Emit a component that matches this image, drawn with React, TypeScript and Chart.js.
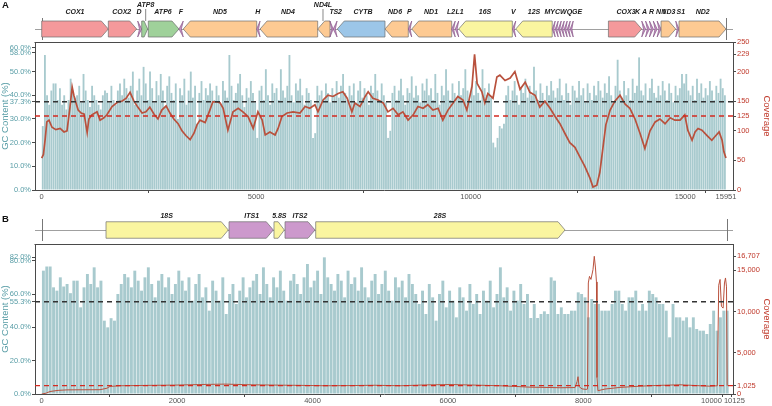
import React, { useEffect, useRef } from "react";
import { Chart, registerables } from "chart.js";

Chart.register(...registerables);

const FONT = "'Liberation Sans', Arial, Helvetica, sans-serif";
const WINDOW_BP = 50;

// ---------------- Panel A: mitochondrial genome ----------------
const mitoLength = 15951;
const mitoXMin = -156;
const mitoXMax = 16114;
const mitoXTicks = [0, 5000, 10000, 15000, 15951];
const mitoGCTicks = [0, 10, 20, 30, 37.3, 40, 50, 58, 60];
const mitoCovTicks = [0, 50, 100, 125, 150, 200, 229, 250];
const mitoGCAxisMax = 62.5;
const mitoCovAxisMax = 250;
const mitoGCMean = 37.3;
const mitoCovMean = 125;

// GC content (%) in 50 bp windows
const mitoGC = [
  27, 57, 40, 36, 42, 45, 45, 38, 43, 36, 40, 34, 38, 47, 42, 39, 40, 44, 37, 49,
  42, 38, 35, 44, 40, 38, 36, 34, 40, 42, 41, 37, 44, 38, 36, 42, 45, 40, 47, 43,
  39, 44, 50, 36, 42, 47, 40, 52, 45, 38, 50, 43, 37, 46, 40, 49, 42, 35, 44, 48,
  41, 38, 45, 30, 43, 40, 47, 36, 42, 50, 39, 44, 28, 41, 46, 38, 43, 40, 45, 42,
  38, 44, 40, 36, 46, 42, 39, 57, 44, 38, 41, 45, 49, 40, 35, 43, 39, 46, 41, 37,
  22, 42, 44, 38, 51, 40, 36, 45, 41, 43, 38, 51, 42, 39, 44, 57, 40, 37, 45, 42,
  47, 40, 36, 43, 41, 38, 22, 24, 44, 40, 42, 38, 45, 41, 37, 43, 40, 46, 39, 44,
  49, 41, 38, 44, 40, 45, 37, 42, 46, 39, 43, 40, 36, 44, 41, 49, 42, 38, 45, 40,
  37, 22, 25, 41, 44, 38, 42, 47, 40, 36, 43, 41, 48, 39, 44, 40, 37, 45, 42, 47,
  40, 43, 38, 49, 41, 36, 44, 40, 51, 42, 38, 45, 41, 39, 46, 40, 43, 51, 42, 38,
  44, 40, 46, 41, 38, 51, 43, 40, 45, 39, 20, 18, 22, 27, 26, 28, 40, 44, 38, 42,
  46, 40, 36, 43, 41, 47, 39, 44, 40, 52, 42, 38, 45, 41, 37, 44, 40, 46, 42, 39,
  43, 47, 40, 38, 45, 41, 36, 44, 42, 39, 46, 40, 43, 37, 45, 41, 38, 44, 40, 46,
  42, 39, 45, 41, 48, 40, 37, 44, 55, 42, 39, 46, 40, 43, 38, 47, 41, 44, 56, 42,
  40, 45, 38, 43, 47, 41, 39, 44, 40, 46, 42, 38, 45, 41, 37, 44, 40, 43, 49, 45,
  49, 42, 40, 44, 38, 47, 41, 45, 39, 43, 40, 46, 42, 38, 44, 41, 47, 43, 40,
];

// read depth along the genome
const mitoCovPos = [
  0, 40, 80, 120, 170, 240, 330, 430, 520, 590, 660, 710, 750, 800, 850, 920, 990, 1060, 1100, 1170,
  1290, 1360, 1450, 1520, 1640, 1780,
  1870, 1970, 2060, 2150, 2240, 2340, 2430, 2520, 2620, 2710, 2800, 2900, 2990, 3080, 3180, 3270,
  3360, 3460, 3550, 3620,
  3690, 3810, 3920, 3990, 4090, 4160, 4230, 4340, 4460, 4580, 4690, 4810, 4930, 5040, 5140, 5210,
  5320, 5440, 5510, 5600, 5720, 5860, 6020, 6140, 6250, 6370, 6440, 6560, 6670, 6790, 6910, 7020,
  7120, 7230, 7300, 7420, 7540, 7610, 7720, 7840, 7960, 8070, 8190, 8310, 8420, 8540, 8660, 8770,
  8890, 9000, 9120, 9240, 9350, 9470, 9590, 9700, 9820, 9910, 10030, 10090, 10150, 10260, 10330,
  10400, 10520, 10610, 10680,
  10800, 10920, 11030, 11150, 11270, 11380, 11500, 11610, 11730, 11850, 11960, 12080, 12200, 12310,
  12430, 12550, 12660, 12780, 12850, 12940, 13010, 13080, 13150, 13250, 13360, 13480, 13600, 13710,
  13830, 13950, 14060, 14180, 14300, 14410, 14530, 14650, 14760,
  14880, 14990, 15060, 15160, 15230, 15300, 15390, 15510, 15620, 15690, 15790, 15860, 15900, 15950,
];
const mitoCovVal = [
  54, 60, 85, 115, 118, 106, 102, 104, 98, 100, 140, 174, 160, 147, 135, 130, 128, 97, 120, 127,
  132, 118, 122, 127, 141, 149,
  150, 155, 165, 150, 140, 130, 132, 140, 128, 120, 135, 142, 130, 120, 112, 100,
  92, 85, 96, 110,
  118, 114, 135, 149, 149, 147, 138, 101, 132, 138, 132, 124, 104, 132, 118, 93,
  98, 93, 104, 124, 130, 132, 130, 141, 138, 144, 132, 152, 160, 158, 163, 166,
  155, 132, 147, 141, 158, 166, 155, 152, 147, 132, 138, 127, 132, 118, 127, 141,
  138, 144, 135, 138, 118, 135, 147, 158, 152, 135, 175, 229, 180, 166, 147,
  163, 155, 191, 194,
  185, 189, 200, 170, 182, 165, 160, 140, 150, 138, 125, 112, 95, 80,
  72, 55, 40, 20, 5, 8, 30, 70, 110, 135, 150, 160, 145, 138,
  120, 95, 70, 100, 115, 120, 112, 122, 118,
  118, 127, 101, 84, 98, 104, 101, 92, 84, 90, 98, 84, 65, 54,
];

const mitoGeneName = [
  "COX1", "COX2", "D", "ATP8", "ATP6", "F", "ND5", "H", "ND4", "ND4L", "T", "S2", "CYTB",
  "ND6", "P", "ND1", "L2", "L1", "16S", "V", "12S",
  "M", "Y", "C", "W", "Q", "G", "E",
  "COX3", "K", "A", "R", "N", "I", "ND3", "S1", "ND2",
];
const mitoGeneStart = [
  0, 1553, 2237, 2331, 2485, 3200, 3300, 5012, 5090, 6433, 6720, 6795, 6890,
  8002, 8545, 8625, 9557, 9640, 9720, 10970, 11050,
  11900, 11970, 12040, 12110, 12180, 12250, 12320,
  13210, 13986, 14076, 14166, 14256, 14346, 14437, 14779, 14856,
];
const mitoGeneEnd = [
  1553, 2214, 2331, 2471, 3200, 3300, 5012, 5090, 6433, 6720, 6795, 6885, 8002,
  8545, 8625, 9557, 9640, 9720, 10970, 11050, 11900,
  11970, 12040, 12110, 12180, 12250, 12320, 12390,
  13986, 14076, 14166, 14256, 14346, 14437, 14779, 14856, 15951,
];
const mitoGeneStrand = [
  1, 1, 1, 1, 1, -1, -1, -1, -1, -1, 1, -1, -1,
  -1, -1, -1, -1, -1, -1, -1, -1,
  -1, -1, -1, -1, -1, -1, -1,
  1, 1, 1, 1, 1, 1, 1, 1, 1,
];
const mitoGeneKind = [
  "cox", "cox", "trna", "atp", "atp", "trna", "nd", "trna", "nd", "nd", "trna", "trna", "cytb",
  "nd", "trna", "nd", "trna", "trna", "rrna", "trna", "rrna",
  "trna", "trna", "trna", "trna", "trna", "trna", "trna",
  "cox", "trna", "trna", "trna", "trna", "trna", "nd", "trna", "nd",
];
const mitoLabelText = [
  "COX1", "COX2", "D", "ATP8", "ATP6", "F", "ND5", "H", "ND4", "ND4L", "T", "S2", "CYTB",
  "ND6", "P", "ND1", "L2", "L1", "16S", "V", "12S", "MYCWQGE",
  "COX3", "K A R N I", "ND3", "S1", "ND2",
];
const mitoLabelPos = [
  776, 1865, 2268, 2424, 2828, 3247, 4156, 5035, 5741, 6557, 6760, 6900, 7490,
  8236, 8569, 9075, 9541, 9739, 10334, 10993, 11476, 12159,
  13621, 14180, 14607, 14896, 15408,
];
const mitoLabelRaised = [
  0, 0, 0, 1, 0, 0, 0, 0, 0, 1, 0, 0, 0,
  0, 0, 0, 0, 0, 0, 0, 0, 0,
  0, 0, 0, 0, 0,
];

// ---------------- Panel B: rDNA unit ----------------
const rdnaLength = 10125;
const rdnaXMin = -99;
const rdnaXMax = 10211;
const rdnaXTicks = [0, 2000, 4000, 6000, 8000, 10000, 10125];
const rdnaGCTicks = [0, 20, 40, 55.3, 60, 80, 82];
const rdnaCovTicks = [0, 1025, 5000, 10000, 15000, 16707];
const rdnaGCAxisMax = 90;
const rdnaCovAxisMax = 18200;
const rdnaGCMean = 55.3;
const rdnaCovMean = 1025;

const rdnaGC = [
  74, 76.5, 76.5, 64, 62, 70, 64.5, 66, 60.5, 68, 68, 52, 64, 72, 66, 76, 64, 68, 44, 40, 45.5, 44,
  60, 66, 72, 70, 64, 74, 68, 62, 70, 76, 66, 58, 68, 72, 64, 70, 60, 66, 74, 68, 62, 70, 56, 66, 72,
  58, 64, 50, 68, 62, 56, 70, 48, 60, 66, 54, 62, 70, 58, 64,
  68, 72, 60, 76, 66, 58, 70, 64, 74, 62, 56, 68, 72, 66, 60, 70, 78, 64, 68, 74, 60, 82, 70, 66,
  62, 72, 68, 58, 74, 66, 70, 62, 76, 64, 58, 68, 72, 60, 66, 74, 62, 56, 70, 64, 68, 58, 72, 66, 60,
  54, 62, 48, 66, 58, 44, 60, 68, 52, 62, 56, 46, 64, 58, 50, 66, 54, 60, 48,
  62, 56, 68, 52, 60, 76, 58, 64, 50, 62, 56, 66, 54, 60,
  45.6, 54, 45.6, 48, 49.6, 48, 70, 68, 48, 52, 48, 48, 50, 50, 61, 60, 58, 46, 57, 54,
  54, 50, 50, 50, 54, 62, 62, 54, 50, 58, 58, 62, 50, 54, 50, 62, 60, 58, 54, 54,
  50, 34, 54, 46, 46, 44, 46, 40, 46, 39, 38, 38, 36, 42, 50, 38, 46, 50, 50,
];

const rdnaCovPos = [
  0, 64, 123, 241, 374, 566, 861, 964, 1009, 1157, 1600, 1969, 2338, 2707, 3077, 3446, 3815, 4184,
  4554, 4923, 5292, 5661, 6031, 6400, 6769, 6991, 7213, 7434, 7656, 7878, 7907, 7922, 7937, 7981,
  8040, 8062, 8074, 8091, 8113, 8143, 8162, 8180, 8194, 8202, 8216, 8320, 8541, 8837, 9132, 9428,
  9723, 9871, 9980, 10000, 10020, 10040, 10065, 10085, 10100, 10115, 10125,
];
const rdnaCovVal = [
  0, 100, 300, 440, 500, 510, 520, 700, 920, 1000, 1050, 1080, 1150, 1200, 1120, 1080, 1050, 1000,
  1020, 1060, 1000, 1100, 1150, 1080, 1000, 920, 830, 800, 760, 780, 1500, 2100, 900, 620,
  560, 600, 13470, 14270, 13900, 15085, 16707, 15290, 13600, 2000, 400, 600, 800, 950, 1050, 1120,
  1000, 950, 1000, 13200, 13900, 10630, 10420, 13470, 14080, 13000, 1000,
];

const rdnaGeneName = ["18S", "ITS1", "5.8S", "ITS2", "28S"];
const rdnaGeneStart = [950, 2767, 3431, 3594, 4047];
const rdnaGeneEnd = [2756, 3421, 3584, 4037, 7730];
const rdnaGeneStrand = [1, 1, 1, 1, 1];
const rdnaGeneKind = ["rrna", "its", "rrna", "its", "rrna"];
const rdnaLabelText = ["18S", "ITS1", "5.8S", "ITS2", "28S"];
const rdnaLabelPos = [1846, 3102, 3510, 3815, 5883];
const rdnaLabelRaised = [0, 0, 0, 0, 0];

// ---------------- styling ----------------
const KIND_COLOR: Record<string, string> = {
  cox: "#f4999b",
  atp: "#9fd19a",
  nd: "#fdca93",
  cytb: "#9cc6e8",
  rrna: "#faf5a0",
  trna: "#c792c6",
  its: "#cc99cc",
};
const TEAL = "#5a9ea7";
const RED = "#c0392b";
const AXIS = "#4a4a4a";
const BAR = "#a8cace";

type Track = {
  names: string[];
  start: number[];
  end: number[];
  strand: number[];
  kind: string[];
  labelText: string[];
  labelPos: number[];
  labelRaised: number[];
  length: number;
  center: number;
  height: number;
  labelY: number;
  raisedY: number;
  letter: string;
  letterY: number;
};

function drawGene(ctx: CanvasRenderingContext2D, x0: number, x1: number, top: number, h: number, strand: number, kind: string) {
  const w = x1 - x0;
  const mid = top + h / 2;
  ctx.beginPath();
  if (kind === "trna") {
    const notch = Math.min(w * 0.45, 2);
    if (strand > 0) {
      ctx.moveTo(x0, top);
      ctx.lineTo(x1, mid);
      ctx.lineTo(x0, top + h);
      ctx.lineTo(x0 + notch, mid);
    } else {
      ctx.moveTo(x1, top);
      ctx.lineTo(x0, mid);
      ctx.lineTo(x1, top + h);
      ctx.lineTo(x1 - notch, mid);
    }
  } else {
    const head = Math.min(7, w * 0.6);
    if (strand > 0) {
      ctx.moveTo(x0, top);
      ctx.lineTo(x1 - head, top);
      ctx.lineTo(x1, mid);
      ctx.lineTo(x1 - head, top + h);
      ctx.lineTo(x0, top + h);
    } else {
      ctx.moveTo(x1, top);
      ctx.lineTo(x0 + head, top);
      ctx.lineTo(x0, mid);
      ctx.lineTo(x0 + head, top + h);
      ctx.lineTo(x1, top + h);
    }
  }
  ctx.closePath();
  ctx.fillStyle = KIND_COLOR[kind];
  ctx.fill();
  ctx.strokeStyle = kind === "trna" ? "#8a5a8a" : "#6f6f6f";
  ctx.lineWidth = 0.7;
  ctx.stroke();
}

const geneTrackPlugin = {
  id: "geneTrack",
  afterDraw(chart: any, _args: any, opts: any) {
    const t: Track = opts.track;
    if (!t) return;
    const { ctx, chartArea } = chart;
    const x = chart.scales.x;
    ctx.save();
    // frame top edge
    ctx.strokeStyle = AXIS;
    ctx.lineWidth = 1;
    ctx.beginPath();
    ctx.moveTo(chartArea.left - 0.5, Math.round(chartArea.top) + 0.5);
    ctx.lineTo(chartArea.right + 0.5, Math.round(chartArea.top) + 0.5);
    ctx.stroke();

    // backbone and end marks
    ctx.strokeStyle = "#a0a0a0";
    ctx.beginPath();
    ctx.moveTo(chartArea.left, t.center + 0.5);
    ctx.lineTo(chartArea.right, t.center + 0.5);
    ctx.stroke();
    ctx.strokeStyle = "#777";
    [0, t.length].forEach((v) => {
      const px = Math.round(x.getPixelForValue(v)) + 0.5;
      ctx.beginPath();
      ctx.moveTo(px, t.center - 11);
      ctx.lineTo(px, t.center + 11);
      ctx.stroke();
    });

    const top = t.center - t.height / 2;
    t.names.forEach((_n, i) => {
      drawGene(ctx, x.getPixelForValue(t.start[i]), x.getPixelForValue(t.end[i]), top, t.height, t.strand[i], t.kind[i]);
    });

    ctx.fillStyle = "#1a1a1a";
    ctx.font = `italic bold 7px ${FONT}`;
    ctx.textAlign = "center";
    ctx.textBaseline = "middle";
    t.labelText.forEach((txt, i) => {
      const px = x.getPixelForValue(t.labelPos[i]);
      if (t.labelRaised[i]) {
        ctx.fillText(txt, px, t.raisedY);
        ctx.strokeStyle = "#555";
        ctx.lineWidth = 0.7;
        ctx.beginPath();
        ctx.moveTo(px, t.raisedY + 4);
        ctx.lineTo(px, top);
        ctx.stroke();
      } else {
        ctx.fillText(txt, px, t.labelY);
      }
    });

    // panel letter
    ctx.font = `bold 9.5px ${FONT}`;
    ctx.textAlign = "left";
    ctx.textBaseline = "top";
    ctx.fillStyle = "#111";
    ctx.fillText(t.letter, 2, t.letterY);
    ctx.restore();
  },
};

const xLabelPlugin = {
  id: "xLabels",
  afterDraw(chart: any, _args: any, opts: any) {
    const values: number[] = opts.values;
    if (!values) return;
    const s = chart.scales.x;
    const ctx = chart.ctx;
    ctx.save();
    ctx.font = `7.5px ${FONT}`;
    ctx.fillStyle = "#555";
    ctx.textAlign = "center";
    ctx.textBaseline = "top";
    const items = values.map((v) => ({ text: String(v), x: s.getPixelForValue(v), w: ctx.measureText(String(v)).width }));
    for (let i = 1; i < items.length; i++) {
      const a = items[i - 1];
      const b = items[i];
      const need = (a.w + b.w) / 2 + 2;
      const gap = b.x - a.x;
      if (gap < need) {
        const d = (need - gap) / 2;
        a.x -= d;
        b.x += d;
      }
    }
    items.forEach((it) => ctx.fillText(it.text, it.x, chart.chartArea.bottom + opts.offset));
    ctx.restore();
  },
};

type PanelSpec = {
  gc: number[];
  covPos: number[];
  covVal: number[];
  xMin: number;
  xMax: number;
  xTicks: number[];
  gcTicks: number[];
  covTicks: number[];
  gcMax: number;
  covMax: number;
  gcMean: number;
  covMean: number;
  padTop: number;
  xAxisHeight: number;
  covFormat: (v: number) => string;
  lineWidth: number;
  track: Track;
};

function buildConfig(p: PanelSpec): any {
  const tickFont = { family: FONT, size: 7.5 };
  const titleFont = { family: FONT, size: 9.5 };
  const gridOpts = { display: true, drawOnChartArea: false, drawTicks: true, tickLength: 3, color: AXIS, lineWidth: 1 };
  const border = { display: true, color: AXIS, width: 1 };
  return {
    type: "bar",
    data: {
      datasets: [
        {
          type: "line",
          label: "coverage",
          data: p.covPos.map((x, i) => ({ x, y: p.covVal[i] })),
          yAxisID: "y2",
          borderColor: "#b9513d",
          borderWidth: p.lineWidth,
          pointRadius: 0,
          tension: 0,
          order: 2,
        },
        {
          type: "line",
          label: "mean GC",
          data: [
            { x: p.xMin, y: p.gcMean },
            { x: p.xMax, y: p.gcMean },
          ],
          yAxisID: "y",
          borderColor: "#333333",
          borderWidth: 1.5,
          borderDash: [5, 4],
          pointRadius: 0,
          order: 1,
        },
        {
          type: "line",
          label: "mean coverage",
          data: [
            { x: p.xMin, y: p.covMean },
            { x: p.xMax, y: p.covMean },
          ],
          yAxisID: "y2",
          borderColor: "#d42a20",
          borderWidth: 1.3,
          borderDash: [5, 4],
          pointRadius: 0,
          order: 1,
        },
        {
          type: "bar",
          label: "GC",
          data: p.gc.map((v, i) => ({ x: i * WINDOW_BP + WINDOW_BP / 2, y: v })),
          yAxisID: "y",
          backgroundColor: BAR,
          borderWidth: 0,
          barPercentage: 0.86,
          categoryPercentage: 1,
          order: 10,
        },
      ],
    },
    options: {
      responsive: false,
      animation: false,
      devicePixelRatio: 1,
      layout: { padding: { top: p.padTop, left: 0, right: 0, bottom: 0 } },
      plugins: {
        legend: { display: false },
        tooltip: { enabled: false },
        geneTrack: { track: p.track },
        xLabels: { values: p.xTicks, offset: 3.5 },
      },
      scales: {
        x: {
          type: "linear",
          min: p.xMin,
          max: p.xMax,
          offset: false,
          grid: gridOpts,
          border,
          ticks: { display: false },
          afterBuildTicks: (s: any) => {
            s.ticks = p.xTicks.map((v) => ({ value: v }));
          },
          afterFit: (s: any) => {
            s.height = p.xAxisHeight;
          },
        },
        y: {
          type: "linear",
          position: "left",
          min: 0,
          max: p.gcMax,
          grid: gridOpts,
          border,
          ticks: {
            color: TEAL,
            font: tickFont,
            padding: 1,
            autoSkip: false,
            callback: (v: number) => v.toFixed(1) + "%",
          },
          afterBuildTicks: (s: any) => {
            s.ticks = p.gcTicks.map((v) => ({ value: v }));
          },
          afterFit: (s: any) => {
            s.width = 35;
          },
          title: { display: true, text: "GC Content (%)", color: TEAL, font: titleFont, padding: 0 },
        },
        y2: {
          type: "linear",
          position: "right",
          min: 0,
          max: p.covMax,
          grid: gridOpts,
          border,
          ticks: {
            color: RED,
            font: tickFont,
            padding: 1,
            autoSkip: false,
            callback: (v: number) => p.covFormat(v),
          },
          afterBuildTicks: (s: any) => {
            s.ticks = p.covTicks.map((v) => ({ value: v }));
          },
          afterFit: (s: any) => {
            s.width = 39;
          },
          title: { display: true, text: "Coverage", color: RED, font: titleFont, padding: 0 },
        },
      },
    },
    plugins: [geneTrackPlugin, xLabelPlugin],
  };
}

const mitoPanel: PanelSpec = {
  gc: mitoGC,
  covPos: mitoCovPos,
  covVal: mitoCovVal,
  xMin: mitoXMin,
  xMax: mitoXMax,
  xTicks: mitoXTicks,
  gcTicks: mitoGCTicks,
  covTicks: mitoCovTicks,
  gcMax: mitoGCAxisMax,
  covMax: mitoCovAxisMax,
  gcMean: mitoGCMean,
  covMean: mitoCovMean,
  padTop: 42,
  xAxisHeight: 13,
  covFormat: (v) => String(v),
  lineWidth: 1.7,
  track: {
    names: mitoGeneName,
    start: mitoGeneStart,
    end: mitoGeneEnd,
    strand: mitoGeneStrand,
    kind: mitoGeneKind,
    labelText: mitoLabelText,
    labelPos: mitoLabelPos,
    labelRaised: mitoLabelRaised,
    length: mitoLength,
    center: 29,
    height: 16,
    labelY: 12.5,
    raisedY: 5,
    letter: "A",
    letterY: 1,
  },
};

const rdnaPanel: PanelSpec = {
  gc: rdnaGC,
  covPos: rdnaCovPos,
  covVal: rdnaCovVal,
  xMin: rdnaXMin,
  xMax: rdnaXMax,
  xTicks: rdnaXTicks,
  gcTicks: rdnaGCTicks,
  covTicks: rdnaCovTicks,
  gcMax: rdnaGCAxisMax,
  covMax: rdnaCovAxisMax,
  gcMean: rdnaGCMean,
  covMean: rdnaCovMean,
  padTop: 41,
  xAxisHeight: 12,
  covFormat: (v) => v.toLocaleString("en-US"),
  lineWidth: 1,
  track: {
    names: rdnaGeneName,
    start: rdnaGeneStart,
    end: rdnaGeneEnd,
    strand: rdnaGeneStrand,
    kind: rdnaGeneKind,
    labelText: rdnaLabelText,
    labelPos: rdnaLabelPos,
    labelRaised: rdnaLabelRaised,
    length: rdnaLength,
    center: 27,
    height: 16.5,
    labelY: 13,
    raisedY: 5,
    letter: "B",
    letterY: 11.5,
  },
};

function Panel({ spec, top }: { spec: PanelSpec; top: number }) {
  const ref = useRef<HTMLCanvasElement | null>(null);
  useEffect(() => {
    if (!ref.current) return;
    const chart = new Chart(ref.current, buildConfig(spec));
    return () => chart.destroy();
  }, [spec]);
  return (
    <canvas
      ref={ref}
      width={772}
      height={203}
      style={{ position: "absolute", left: 0, top, width: 772, height: 203, display: "block" }}
    />
  );
}

export default function App() {
  return (
    <div style={{ position: "absolute", left: 0, top: 0, width: 772, height: 406, background: "#ffffff", overflow: "hidden" }}>
      <Panel spec={mitoPanel} top={0} />
      <Panel spec={rdnaPanel} top={203} />
    </div>
  );
}
